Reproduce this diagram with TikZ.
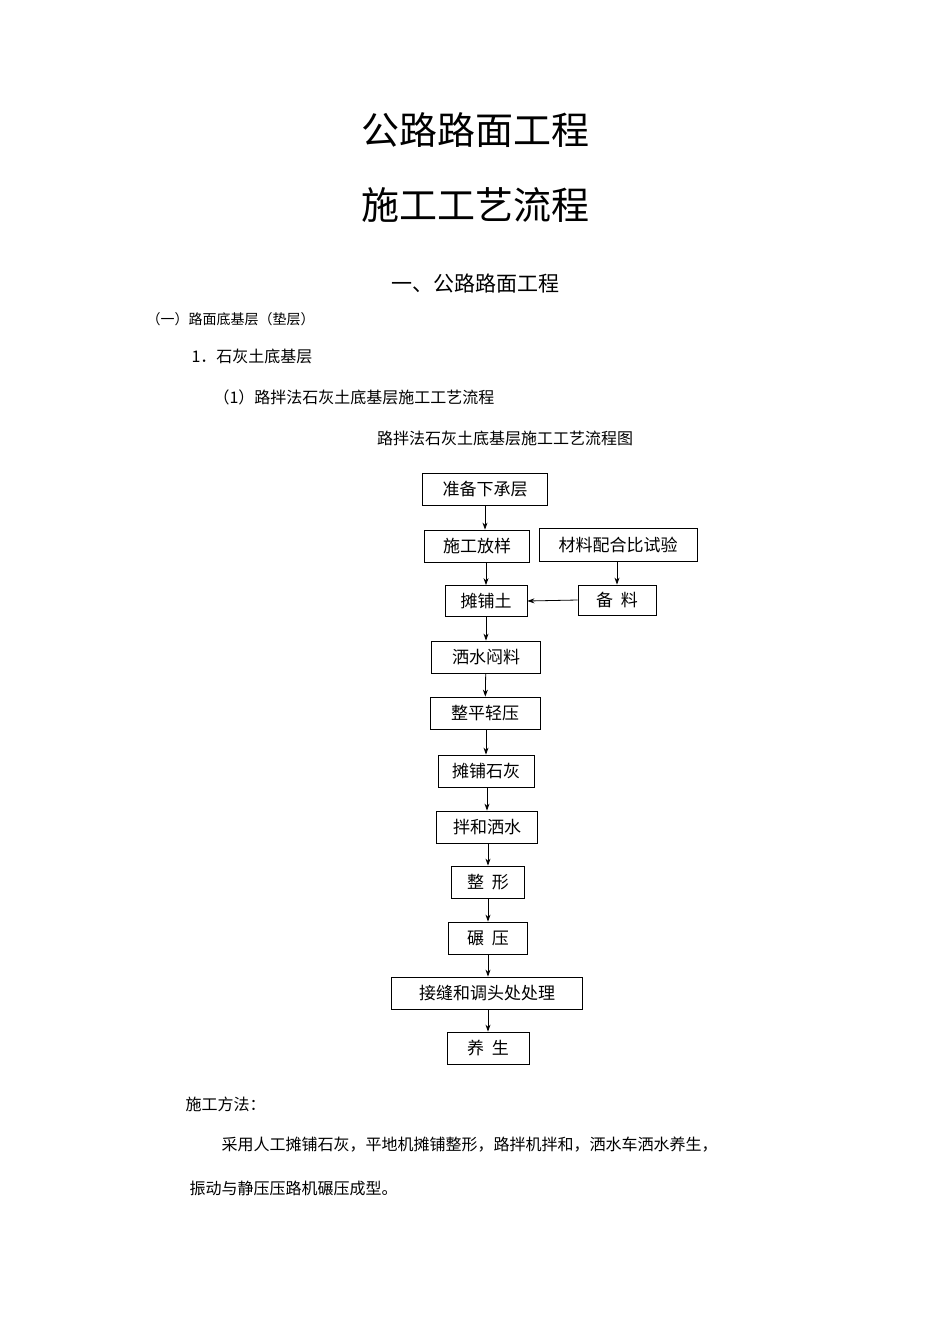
\documentclass[tikz,border=0pt]{standalone}
\usepackage{fontspec}
\setmainfont{Noto Sans CJK SC}
\usetikzlibrary{arrows.meta}
\begin{document}
\begin{tikzpicture}[x=1pt,y=-1pt,
  bx/.style={draw,line width=0.8pt,inner sep=0pt,font=\fontsize{17}{17}\selectfont},
  ar/.style={-{Stealth[length=7pt,width=5pt]},line width=0.8pt}]
\useasboundingbox[fill=white] (0,0) rectangle (950,1344);
\node[font=\fontsize{38}{38}\selectfont] (t1) at (475,130) {公路路面工程};
\node[font=\fontsize{38}{38}\selectfont] (t2) at (475,205) {施工工艺流程};
\node[font=\fontsize{21}{21}\selectfont] (t3) at (475,284) {一、公路路面工程};
\node[anchor=west,font=\fontsize{14}{14}\selectfont] (t4) at (143,319) {（一）路面底基层（垫层）};
\node[anchor=west,font=\fontsize{16}{16}\selectfont] (t5) at (188,356) {1．石灰土底基层};
\node[anchor=west,font=\fontsize{16}{16}\selectfont] (t6) at (210,397) {（1）路拌法石灰土底基层施工工艺流程};
\node[font=\fontsize{16}{16}\selectfont] (t7) at (505,438) {路拌法石灰土底基层施工工艺流程图};
\node[bx,minimum width=125,minimum height=32] (b1) at (485,489) {准备下承层};
\node[bx,minimum width=105,minimum height=32] (b2) at (477,546) {施工放样};
\node[bx,minimum width=158,minimum height=33] (b3) at (618,545) {材料配合比试验};
\node[bx,minimum width=82,minimum height=31] (b4) at (486,601) {摊铺土};
\node[bx,minimum width=78,minimum height=30] (b5) at (617,600) {备\ \ 料};
\node[bx,minimum width=109,minimum height=32] (b6) at (486,657) {洒水闷料};
\node[bx,minimum width=110,minimum height=32] (b7) at (485,713) {整平轻压};
\node[bx,minimum width=96,minimum height=32] (b8) at (486,771) {摊铺石灰};
\node[bx,minimum width=101,minimum height=32] (b9) at (487,827) {拌和洒水};
\node[bx,minimum width=73,minimum height=32] (b10) at (488,882) {整\ \ 形};
\node[bx,minimum width=79,minimum height=32] (b11) at (488,938) {碾\ \ 压};
\node[bx,minimum width=191,minimum height=32] (b12) at (487,993) {接缝和调头处处理};
\node[bx,minimum width=82,minimum height=32] (b13) at (488,1048) {养\ \ 生};
\draw[ar] (b1.south -| 485,0) -- (b2.north -| 485,0);
\draw[ar] (b2.south -| 486,0) -- (b4.north -| 486,0);
\draw[ar] (b3.south -| 617,0) -- (b5.north -| 617,0);
\draw[ar] (b5.west) -- (b4.east);
\draw[ar] (b4) -- (b6);
\draw[ar] (b6) -- (b7);
\draw[ar] (b7.south -| 486,0) -- (b8.north -| 486,0);
\draw[ar] (b8.south -| 487,0) -- (b9.north -| 487,0);
\draw[ar] (b9.south -| 488,0) -- (b10.north -| 488,0);
\draw[ar] (b10) -- (b11);
\draw[ar] (b11.south -| 488,0) -- (b12.north -| 488,0);
\draw[ar] (b12.south -| 488,0) -- (b13.north -| 488,0);
\node[anchor=west,font=\fontsize{16}{16}\selectfont] (p1) at (182,1104) {施工方法：};
\node[anchor=west,font=\fontsize{16}{16}\selectfont] (p2) at (218,1145) {采用人工摊铺石灰，平地机摊铺整形，路拌机拌和，洒水车洒水养生，};
\node[anchor=west,font=\fontsize{16}{16}\selectfont] (p3) at (186,1188) {振动与静压压路机碾压成型。};
\end{tikzpicture}
\end{document}
